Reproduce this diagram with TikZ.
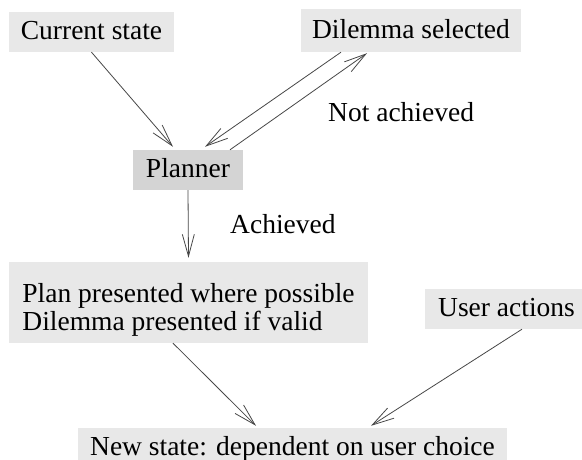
\documentclass[tikz,border=0pt]{standalone}
\usepackage{fontspec}
\setmainfont{Liberation Serif}
\usetikzlibrary{arrows.meta}
\definecolor{boxfill}{gray}{0.91}
\definecolor{plannerfill}{gray}{0.83}
\definecolor{linkcol}{gray}{0.28}
\begin{document}
\begin{tikzpicture}[x=1pt,y=-1pt,
  every node/.style={font=\fontsize{27.5}{28}\selectfont, inner sep=0pt},
  stagebox/.style={fill=boxfill, text height=19pt, text depth=4pt},
  plannerbox/.style={stagebox, fill=plannerfill},
  link/.style={draw=linkcol, line width=0.8pt,
    -{Straight Barb[length=22pt,width=12pt,line width=0.8pt]}},
  tag/.style={anchor=base west}]
  \clip (0,0) rectangle (582,459);
  \fill[white] (0,0) rectangle (582,459);

  % stages of the cycle
  \node[stagebox, minimum width=165pt, minimum height=40pt] (cur) at (91.5,32) {Current state};
  \node[stagebox, minimum width=220pt, minimum height=43pt] (dil) at (411,30.5) {Dilemma selected};
  \node[plannerbox, minimum width=110pt, minimum height=40pt] (plan) at (188,170) {Planner};
  \node[fill=boxfill, minimum width=359pt, minimum height=81pt, align=left] (pres) at (188.5,302.5)
    {\rule{0pt}{33pt}Plan presented where possible\\Dilemma presented if valid};
  \node[stagebox, minimum width=163pt, minimum height=40pt] (user) at (506.5,309) {User actions};
  \node[stagebox, minimum width=429pt, minimum height=39pt] (new) at (292.5,447.5) {New state: dependent on user choice};

  % edge labels
  \node[tag] (lnot) at (328,121) {Not achieved};
  \node[tag] (lach) at (230,233) {Achieved};

  % connectors
  \draw[link] (cur.south) -- ([xshift=-15pt,yshift=3pt]plan.north);
  \draw[link] ([xshift=42pt]plan.north) -- ([xshift=-44pt,yshift=-1pt]dil.south);
  \draw[link] ([xshift=-70pt]dil.south) -- ([xshift=17pt,yshift=3pt]plan.north);
  \draw[link] (plan.south) -- ([yshift=4pt]pres.north);
  \draw[link] ([xshift=-15.5pt]pres.south) -- ([xshift=-36.5pt,yshift=2pt]new.north);
  \draw[link] ([xshift=15.5pt]user.south) -- ([xshift=78.5pt,yshift=2pt]new.north);
\end{tikzpicture}
\end{document}
